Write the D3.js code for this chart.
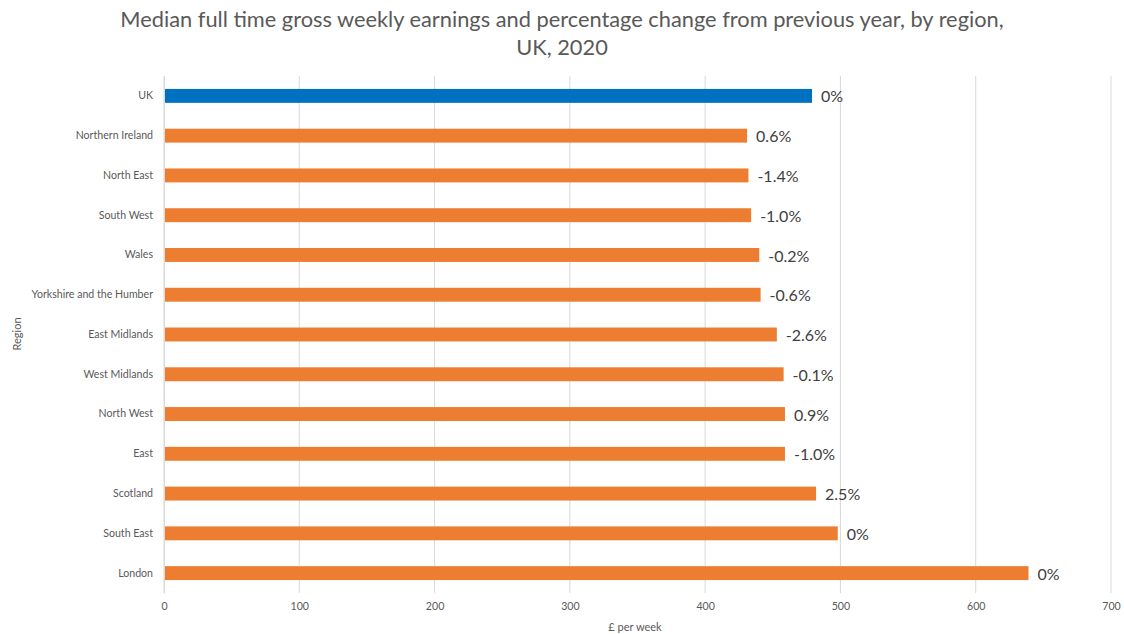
<!DOCTYPE html>
<html>
<head>
<meta charset="utf-8">
<script src="https://cdn.jsdelivr.net/npm/d3@7"></script>
<style>
  body { margin: 0; background: #fff; }
  svg { display: block; font-family: Lato, "Open Sans", sans-serif; }
</style>
</head>
<body>
<svg id="chart" width="1124" height="634"></svg>
<script>
// Regions, top to bottom
const regions = ["UK", "Northern Ireland", "North East", "South West", "Wales",
  "Yorkshire and the Humber", "East Midlands", "West Midlands", "North West",
  "East", "Scotland", "South East", "London"];
// Median full-time gross weekly earnings (£)
const earnings = [479, 431, 432, 434, 440, 441, 453, 458, 459, 459, 482, 498, 639];
// Percentage change from previous year
const changeLabels = ["0%", "0.6%", "-1.4%", "-1.0%", "-0.2%", "-0.6%", "-2.6%",
  "-0.1%", "0.9%", "-1.0%", "2.5%", "0%", "0%"];
const xTicks = [0, 100, 200, 300, 400, 500, 600, 700];

const data = regions.map((r, i) => ({ region: r, value: earnings[i], label: changeLabels[i] }));

const svg = d3.select("#chart");
const margin = { left: 164, right: 13, top: 76, bottom: 41 };
const W = 1124, H = 634;

const x = d3.scaleLinear().domain([0, 700]).range([margin.left, W - margin.right]);
const y = d3.scaleBand().domain(regions).range([margin.top, H - margin.bottom]).paddingInner(0.65).paddingOuter(0.325);

// Title
svg.append("text")
  .attr("x", 562).attr("y", 27)
  .attr("text-anchor", "middle")
  .attr("font-size", 21.8).attr("fill", "#595959")
  .text("Median full time gross weekly earnings and percentage change from previous year, by region,");
svg.append("text")
  .attr("x", 562).attr("y", 55)
  .attr("text-anchor", "middle")
  .attr("font-size", 21.8).attr("fill", "#595959")
  .text("UK, 2020");

// Vertical gridlines
svg.append("g").selectAll("line")
  .data(xTicks)
  .join("line")
  .attr("x1", d => x(d)).attr("x2", d => x(d))
  .attr("y1", margin.top).attr("y2", H - margin.bottom)
  .attr("stroke", "#d9d9d9").attr("stroke-width", 1);

// Bars
svg.append("g").selectAll("rect")
  .data(data)
  .join("rect")
  .attr("x", x(0))
  .attr("y", d => y(d.region))
  .attr("width", d => x(d.value) - x(0))
  .attr("height", y.bandwidth())
  .attr("fill", d => d.region === "UK" ? "#0070C0" : "#ED7D31");

// Category axis
const yAxis = svg.append("g")
  .attr("transform", `translate(${x(0)},0)`)
  .call(d3.axisLeft(y).tickSize(0).tickPadding(11));
yAxis.select(".domain").attr("stroke", "#d9d9d9");
yAxis.selectAll("text").attr("font-size", 10.6).attr("fill", "#595959")
  .attr("font-family", "Lato, 'Open Sans', sans-serif");

// Value axis labels
const xAxis = svg.append("g")
  .attr("transform", `translate(0,${H - margin.bottom})`)
  .call(d3.axisBottom(x).tickValues(xTicks).tickSize(0).tickPadding(9));
xAxis.select(".domain").remove();
xAxis.selectAll("text").attr("font-size", 10.6).attr("fill", "#595959")
  .attr("font-family", "Lato, 'Open Sans', sans-serif");

// Percentage change labels
svg.append("g").selectAll("text")
  .data(data)
  .join("text")
  .attr("x", d => x(d.value) + 9)
  .attr("y", d => y(d.region) + y.bandwidth() / 2 + 1)
  .attr("dy", "0.35em")
  .attr("font-size", 16).attr("fill", "#404040")
  .text(d => d.label);

// Axis titles
svg.append("text")
  .attr("x", 635).attr("y", 631)
  .attr("text-anchor", "middle")
  .attr("font-size", 11).attr("fill", "#595959")
  .text("£ per week");
svg.append("text")
  .attr("transform", "translate(21,334) rotate(-90)")
  .attr("text-anchor", "middle")
  .attr("font-size", 11).attr("fill", "#595959")
  .text("Region");
</script>
</body>
</html>
